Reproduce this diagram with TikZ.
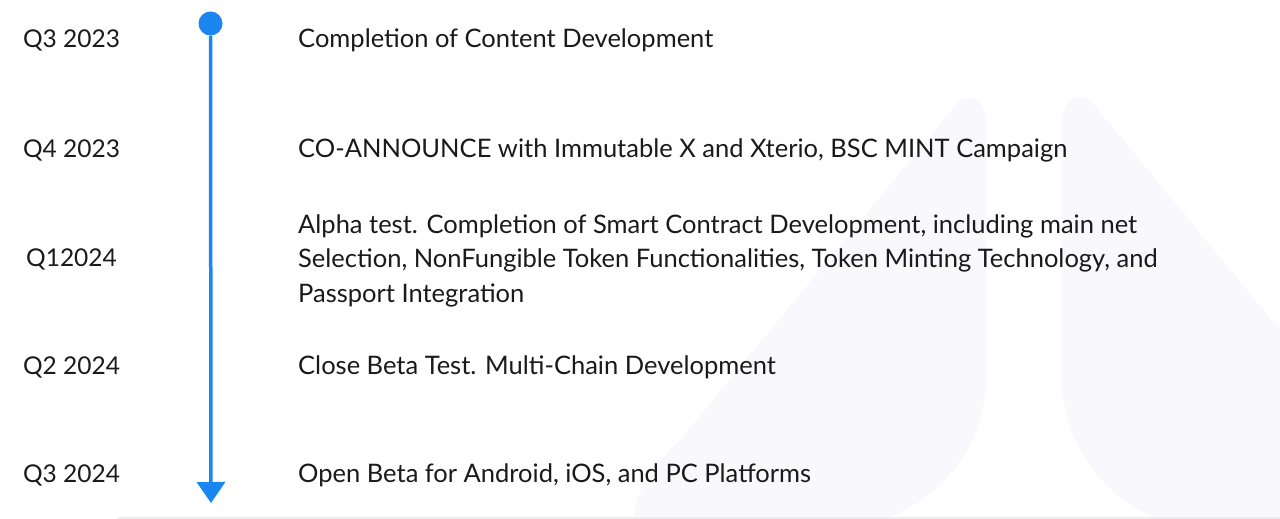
\documentclass[tikz,border=0pt]{standalone}
\usepackage{fontspec}
\setmainfont{Lato}
\usetikzlibrary{arrows.meta}
\definecolor{tlblue}{RGB}{26,134,240}
\definecolor{bgshape}{RGB}{248,248,253}
\definecolor{txt}{RGB}{26,26,26}
\definecolor{floorgray}{RGB}{236,236,238}
\tikzset{
  datelabel/.style={inner sep=0pt, anchor=base, text=txt, font=\fontsize{24.5}{34.5}\selectfont},
  eventlabel/.style={inner sep=0pt, anchor=base west, align=left, text=txt, font=\fontsize{25.5}{34.5}\selectfont},
  eventblock/.style={inner sep=0pt, anchor=west, align=left, text=txt, font=\fontsize{25.5}{34.5}\selectfont},
  dotmark/.style={circle, fill=tlblue, inner sep=0pt, minimum size=24pt},
  timeline/.style={draw=tlblue, line width=3.5pt, -{Triangle[length=21pt, width=28pt]}}
}
\begin{document}
\begin{tikzpicture}[x=1pt, y=-1pt]
\fill[white] (0,0) rectangle (1280,519);
\useasboundingbox (0,0) rectangle (1280,519);
% background shapes
\fill[bgshape] (634,519) .. controls (634,490) and (655,465) .. (680,440)
  -- (950,112) .. controls (962,90) and (986,92) .. (986,125)
  -- (986,377) .. controls (986,440) and (948,495) .. (885,519) -- cycle;
\fill[bgshape] (1158,519) .. controls (1100,495) and (1062,440) .. (1062,377)
  -- (1062,125) .. controls (1062,92) and (1086,88) .. (1100,112)
  -- (1280,330) -- (1280,519) -- cycle;
\fill[floorgray] (118,517) rectangle (1280,519);
% timeline
\node[dotmark] (dot) at (210.5,23.5) {};
\coordinate (tip) at (211,503);
\draw[timeline] (dot.south) -- (tip);
% dates
\node[datelabel] (d1) at (71.5,48) {Q3 2023};
\node[datelabel] (d2) at (71.5,157) {Q4 2023};
\node[datelabel] (d3) at (71.5,266) {Q12024};
\node[datelabel] (d4) at (71.5,374) {Q2 2024};
\node[datelabel] (d5) at (71.5,482) {Q3 2024};
% events
\node[eventlabel] (e1) at (298,48) {Completion of Content Development};
\node[eventlabel] (e2) at (298,157) {CO-ANNOUNCE with Immutable X and Xterio, BSC MINT Campaign};
\node[eventblock] (e3) at (298,260.5) {Alpha test. Completion of Smart Contract Development, including main net\\Selection, NonFungible Token Functionalities, Token Minting Technology, and\\Passport Integration};
\node[eventlabel] (e4) at (298,374) {Close Beta Test. Multi-Chain Development};
\node[eventlabel] (e5) at (298,482) {Open Beta for Android, iOS, and PC Platforms};
\end{tikzpicture}
\end{document}
